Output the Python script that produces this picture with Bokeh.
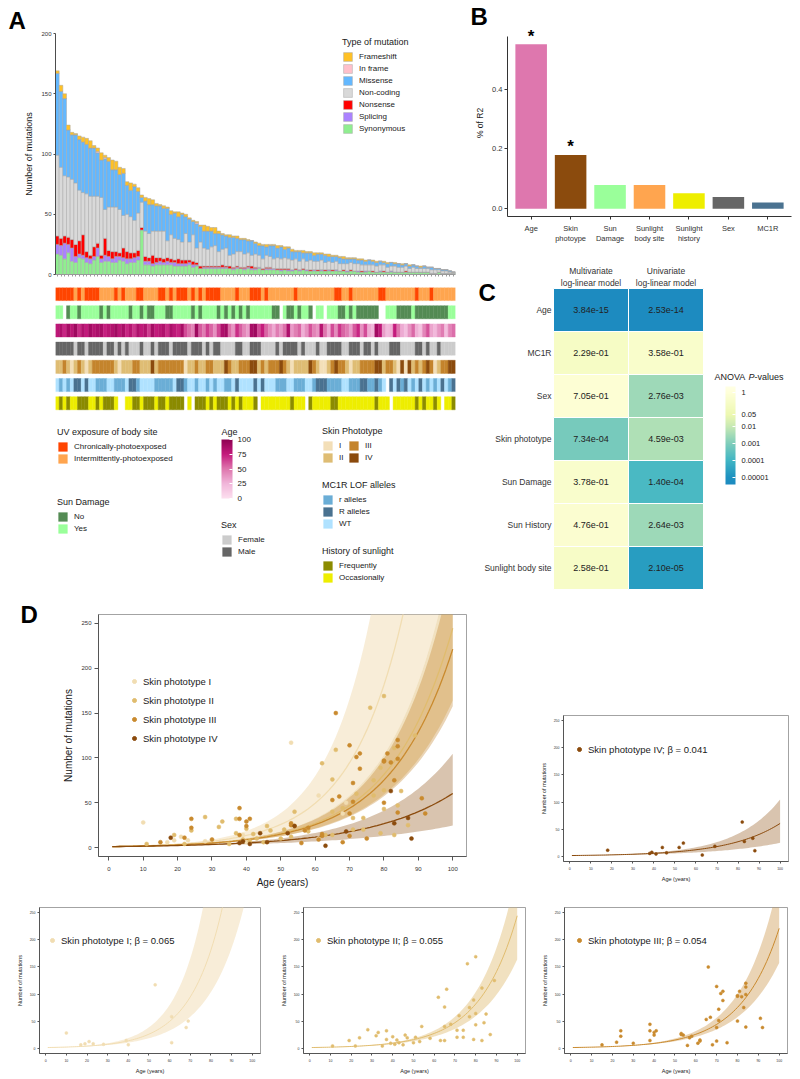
import numpy as np
from bokeh.plotting import figure
from bokeh.layouts import column, row
from bokeh.models import (Range1d, FixedTicker, Legend, LegendItem, ColorBar,
                          LinearColorMapper, Label, ColumnDataSource)
from bokeh.embed import file_html
from bokeh.resources import INLINE
from bokeh.core.properties import value, field

FONT = "Liberation Sans"
N_SAMPLES = 109

# ------------------------------------------------------------------ Panel A
MUT_TYPES = ["Frameshift", "In frame", "Missense", "Non-coding", "Nonsense", "Splicing", "Synonymous"]
FRAMESHIFT = [2, 5, 4, 4, 2, 1, 3, 4, 5, 6,  2, 3, 6, 2, 3, 8, 7, 6, 4, 3,
              6, 2, 3, 2, 3, 5, 4, 2, 1, 2,  1, 3, 1, 4, 1, 2, 1, 1, 1, 1,
              5, 4, 3, 5, 2, 1, 1, 2, 1, 2,  1, 1, 1, 0, 1, 2, 1, 2, 1, 1,
              2, 1, 2, 1, 2, 1, 1, 2, 1, 1,  2, 1, 1, 1, 2, 1, 1, 1, 2, 1,
              1, 1, 1, 1, 1, 0, 1, 1, 0, 1,  1, 0, 1, 0, 1, 0, 1, 0, 0, 1,
              0, 0, 0, 0, 0, 0, 0, 0, 0]
IN_FRAME = [0, 0, 0, 0, 0, 0, 0, 0, 0, 0,  0, 1, 0, 1, 0, 0, 0, 0, 0, 0,
            0, 0, 0, 0, 0, 0, 0, 0, 0, 0,  0, 0, 0, 0, 0, 0, 0, 0, 1, 0,
            0, 0, 0, 0, 0, 0, 0, 0, 0, 0,  0, 0, 0, 0, 0, 0, 0, 0, 0, 0,
            0, 0, 0, 0, 0, 0, 0, 0, 0, 0,  0, 0, 0, 0, 0, 0, 0, 0, 0, 0,
            0, 0, 0, 0, 0, 0, 0, 0, 0, 0,  0, 0, 0, 0, 0, 0, 0, 0, 0, 0,
            0, 0, 0, 0, 0, 0, 0, 0, 0]
MISSENSE = [68, 63, 64, 39, 37, 40, 42, 42, 41, 40,  40, 36, 31, 42, 38, 31, 31, 29, 35, 24,
            22, 28, 18, 4, 25, 24, 22, 21, 21, 19,  27, 17, 21, 19, 23, 14, 19, 11, 20, 13,
            14, 15, 13, 10, 15, 12, 10, 15, 14, 11,  10, 12, 10, 12, 9, 8, 11, 7, 9, 11,
            8, 10, 7, 9, 7, 6, 8, 5, 7, 6,  5, 6, 5, 6, 4, 5, 4, 5, 4, 4,
            3, 4, 3, 4, 3, 4, 3, 3, 3, 2,  3, 3, 2, 3, 2, 2, 2, 2, 2, 1,
            2, 1, 2, 1, 1, 1, 1, 1, 0]
NON_CODING = [67, 59, 50, 50, 50, 51, 42, 35, 48, 49,  42, 39, 48, 24, 36, 37, 37, 36, 27, 31,
              30, 27, 31, 21, 21, 20, 20, 22, 22, 23,  14, 20, 18, 16, 15, 22, 15, 22, 12, 20,
              15, 14, 16, 17, 12, 13, 15, 9, 11, 12,  13, 11, 11, 9, 11, 10, 8, 10, 9, 8,
              9, 8, 9, 8, 8, 8, 7, 8, 7, 8,  7, 7, 8, 6, 7, 6, 7, 6, 5, 6,
              6, 6, 6, 5, 5, 5, 5, 5, 5, 5,  4, 4, 5, 4, 4, 4, 3, 4, 3, 3,
              3, 3, 3, 3, 2, 2, 2, 1, 1]
NONSENSE = [7, 6, 6, 6, 7, 10, 11, 17, 5, 3,  8, 4, 3, 14, 5, 6, 4, 3, 8, 6,
            5, 4, 5, 2, 4, 3, 7, 4, 3, 3,  3, 3, 2, 4, 3, 3, 2, 3, 2, 2,
            1, 1, 1, 1, 1, 2, 1, 2, 1, 1,  1, 1, 1, 2, 1, 0, 1, 1, 1, 0,
            1, 1, 1, 1, 0, 1, 0, 1, 0, 1,  0, 1, 0, 1, 0, 1, 0, 0, 1, 0,
            1, 0, 0, 1, 0, 0, 1, 0, 0, 1,  0, 0, 0, 0, 0, 1, 0, 0, 0, 0,
            0, 0, 0, 0, 0, 0, 0, 0, 0]
SPLICING = [8, 8, 13, 7, 11, 5, 3, 3, 4, 4,  3, 7, 3, 5, 4, 3, 5, 3, 3, 4,
            3, 4, 3, 0, 3, 3, 2, 2, 3, 2,  3, 2, 3, 2, 2, 2, 2, 2, 1, 0,
            1, 1, 1, 1, 1, 1, 1, 0, 1, 1,  0, 1, 1, 1, 1, 1, 0, 1, 1, 1,
            0, 1, 0, 1, 1, 0, 1, 0, 1, 0,  1, 0, 1, 0, 1, 0, 1, 0, 0, 1,
            0, 0, 1, 0, 1, 0, 0, 0, 1, 0,  0, 1, 0, 0, 0, 0, 0, 0, 0, 0,
            0, 0, 0, 0, 0, 0, 0, 0, 0]
SYNONYMOUS = [17, 16, 13, 18, 11, 10, 14, 13, 10, 9,  12, 15, 10, 11, 11, 10, 10, 12, 11, 9,
              10, 10, 12, 37, 8, 8, 7, 8, 8, 8,  8, 8, 7, 7, 7, 7, 8, 6, 7, 5,
              5, 5, 5, 5, 5, 5, 5, 5, 4, 5,  5, 4, 5, 4, 4, 5, 4, 4, 4, 4,
              4, 3, 4, 3, 3, 4, 3, 4, 3, 3,  3, 3, 3, 3, 3, 3, 3, 3, 3, 2,
              3, 3, 2, 2, 2, 3, 2, 2, 2, 2,  2, 2, 2, 2, 2, 2, 2, 2, 2, 2,
              2, 2, 1, 1, 2, 1, 1, 1, 1]

UV_RUNS = [("C", 5), ("I", 1), ("C", 1), ("I", 1), ("C", 4), ("I", 4), ("C", 1), ("I", 1), ("C", 1),
           ("I", 3), ("C", 2), ("I", 4), ("C", 2), ("I", 1), ("C", 1), ("I", 1), ("C", 3), ("I", 1),
           ("C", 1), ("I", 1), ("C", 1), ("I", 1), ("C", 4), ("I", 4), ("C", 1), ("I", 3), ("C", 3),
           ("I", 1), ("C", 1), ("I", 7), ("C", 1), ("I", 10), ("C", 2), ("I", 2), ("C", 1), ("I", 7),
           ("C", 2), ("I", 8), ("C", 1), ("I", 3), ("C", 1), ("I", 6)]
SUN_DAMAGE_RUNS = [("Y", 2), ("X", 1), ("N", 1), ("Y", 2), ("N", 1), ("Y", 5), ("N", 1), ("Y", 1),
                   ("N", 1), ("Y", 5), ("N", 1), ("Y", 2), ("N", 1), ("Y", 1), ("N", 2), ("Y", 3),
                   ("N", 2), ("Y", 5), ("N", 1), ("Y", 1), ("N", 1), ("Y", 4), ("N", 1), ("Y", 1),
                   ("N", 1), ("Y", 1), ("N", 1), ("Y", 1), ("N", 1), ("Y", 1), ("N", 1), ("Y", 6),
                   ("N", 2), ("X", 1), ("Y", 1), ("N", 2), ("Y", 1), ("N", 1), ("Y", 2), ("N", 1),
                   ("X", 1), ("Y", 2), ("X", 1), ("Y", 3), ("N", 2), ("Y", 1), ("N", 1), ("Y", 1),
                   ("N", 6), ("X", 2), ("Y", 3), ("N", 4), ("Y", 1), ("N", 9), ("Y", 2)]
AGE_PER_SAMPLE = [78, 85, 72, 88, 80, 92, 70, 84, 76, 90,  82, 86, 88, 74, 80, 83, 91, 79, 87, 72,
                  81, 68, 85, 77, 83, 66, 89, 75, 80, 84,  70, 86, 78, 73, 88, 62, 52, 45, 92, 58,
                  48, 66, 55, 40, 63, 85, 90, 52, 38, 70,  57, 44, 35, 88, 92, 62, 75, 55, 42, 30,
                  48, 38, 52, 85, 36, 47, 55, 28, 40, 60,  45, 38, 82, 50, 30, 62, 42, 68, 55, 48,
                  35, 58, 72, 40, 62, 30, 25, 90, 78, 35,  22, 28, 75, 50, 30, 20, 38, 54, 28, 18,
                  44, 60, 32, 24, 38, 48, 20, 45, 52]
SEX_RUNS = [("M", 5), ("F", 1), ("M", 2), ("F", 1), ("M", 4), ("F", 1), ("M", 2), ("F", 1), ("M", 1),
            ("F", 1), ("M", 1), ("F", 3), ("M", 1), ("F", 2), ("M", 1), ("F", 1), ("M", 3), ("F", 1),
            ("M", 4), ("F", 1), ("M", 3), ("F", 1), ("M", 1), ("F", 1), ("M", 2), ("F", 4), ("M", 2),
            ("F", 2), ("M", 3), ("F", 4), ("M", 1), ("F", 1), ("M", 4), ("F", 1), ("M", 1), ("F", 3),
            ("M", 1), ("F", 2), ("M", 4), ("F", 2), ("M", 3), ("F", 1), ("M", 2), ("F", 1), ("M", 1),
            ("F", 3), ("M", 3), ("F", 4), ("M", 2), ("F", 1), ("M", 1), ("F", 2), ("M", 1), ("F", 4)]
PHOTOTYPE_CODES = ["2232123212", "3333332122", "2332224233", "3333312232", "2332224322",
                   "3334423233", "3432122224", "3211234332", "1223333442", "3321414232", "343123344"]
MC1R_CODES = ["WrWrWRRWRW", "WrrrWWrrrW", "RRrWWWWrrr", "rrWRRrWWrW", "WrWrWWrrWR",
              "WWWWRWRWWW", "rrrWWrrrWW", "rRRRrrrrWW", "rrrRRrrRrW", "XRWRrRWrWR", "WrWrWRWrR"]
HISTORY_RUNS = [("O", 1), ("F", 1), ("O", 1), ("F", 1), ("O", 2), ("F", 3), ("O", 2), ("F", 1), ("O", 1),
                ("F", 3), ("O", 1), ("X", 2), ("O", 2), ("F", 2), ("O", 1), ("F", 3), ("O", 1), ("F", 2),
                ("O", 1), ("F", 4), ("X", 1), ("O", 1), ("X", 1), ("F", 3), ("O", 1), ("F", 1), ("O", 1),
                ("F", 3), ("O", 1), ("F", 1), ("O", 1), ("F", 1), ("O", 3), ("F", 1), ("X", 1), ("O", 8),
                ("F", 1), ("O", 3), ("X", 1), ("F", 1), ("O", 5), ("F", 2), ("O", 10), ("F", 1), ("O", 3),
                ("X", 1), ("O", 6), ("F", 1), ("O", 1), ("F", 1), ("O", 2), ("F", 1), ("O", 1), ("X", 1),
                ("O", 2), ("F", 1)]

# ------------------------------------------------------------------ Panel B
B_FACTORS = ["Age", "Skin\nphotoype", "Sun\nDamage", "Sunlight\nbody site", "Sunlight\nhistory", "Sex", "MC1R"]
B_R2 = [0.551, 0.180, 0.079, 0.079, 0.052, 0.039, 0.021]
B_SIGNIF = [True, True, False, False, False, False, False]

# ------------------------------------------------------------------ Panel C
C_ROWS = ["Age", "MC1R", "Sex", "Skin phototype", "Sun Damage", "Sun History", "Sunlight body site"]
C_MODELS = [("Multivariate", "log-linear model"), ("Univariate", "log-linear model")]
C_P_MULTI = [3.84e-15, 2.29e-01, 7.05e-01, 7.34e-04, 3.78e-01, 4.76e-01, 2.58e-01]
C_P_UNI = [2.53e-14, 3.58e-01, 2.76e-03, 4.59e-03, 1.40e-04, 2.64e-03, 2.10e-05]
C_TICKS = [0.00001, 0.0001, 0.001, 0.01, 0.05, 1]
C_TICK_LABELS = ["0.00001", "0.0001", "0.001", "0.01", "0.05", "1"]

# ------------------------------------------------------------------ Panel D
PHOTOTYPES = ["I", "II", "III", "IV"]
BETA = [0.065, 0.055, 0.054, 0.041]
BETA_LOW = [0.058, 0.051, 0.0506, 0.032]
BETA_HIGH = [0.073, 0.058, 0.0575, 0.0465]
AGE_I = [10, 17, 19, 21, 23, 28, 39, 40, 53, 61, 61, 68, 69]
MUT_I = [28, 6, 8, 12, 8, 7, 14, 6, 117, 10, 58, 38, 50]
AGE_II = [11, 19, 22, 24, 28, 32, 33, 35, 37, 37, 39, 40, 41, 42, 43, 45, 46, 47, 50, 51, 53, 54, 58, 62, 63,
          65, 65, 65, 66, 68, 71, 71, 72, 74, 74, 76, 77, 77, 79, 79, 80, 80, 80, 83, 83, 84, 85, 87, 89]
MUT_II = [4, 14, 4, 19, 34, 23, 29, 4, 32, 16, 9, 21, 7, 15, 10, 6, 24, 19, 10, 20, 12, 40, 18, 94, 14,
          76, 40, 14, 109, 44, 33, 20, 60, 20, 33, 156, 75, 58, 89, 16, 169, 64, 43, 111, 14, 47, 63, 25, 125]
AGE_III = [15, 22, 24, 24, 30, 38, 38, 38, 40, 40, 41, 53, 53, 54, 56, 57, 58, 61, 62, 62, 65, 66, 67, 68, 70,
           70, 70, 71, 71, 72, 73, 73, 75, 80, 80, 80, 81, 82, 83, 84, 84, 84, 84, 91, 92]
MUT_III = [6, 11, 32, 22, 9, 44, 32, 14, 24, 29, 32, 27, 25, 24, 5, 19, 22, 9, 15, 13, 53, 150, 57, 6, 38,
           114, 13, 72, 51, 101, 105, 88, 10, 97, 96, 50, 105, 95, 75, 120, 113, 99, 39, 55, 38]
AGE_IV = [18, 38, 39, 41, 44, 46, 52, 54, 63, 69, 82, 83, 87, 88]
MUT_IV = [11, 5, 7, 4, 16, 6, 16, 24, 2, 18, 63, 27, 33, 10]
AGE_GRID = list(range(1, 101))

# ------------------------------------------------------------------ styles
MUT_COLORS = ["#FFC125", "#FFC0CB", "#63B8FF", "#D9D9D9", "#FF0000", "#AB82FF", "#90EE90"]
PT_COLORS = ["#F3DFB8", "#DFBD74", "#C4842C", "#8B4B0D"]
PT_POINT_COLORS = ["#F1DDB2", "#E0BC6E", "#C98A2E", "#8B4B0D"]
BAND_ALPHA = [0.55, 0.45, 0.35, 0.33]
B_COLORS = ["#DE77AE", "#8B4B0D", "#9AFF9A", "#FFA54F", "#EEEE00", "#666666", "#4A7290"]
TXT = "#1a1a1a"
AX = "#4d4d4d"


def expand_runs(runs):
    out = []
    for code, n in runs:
        out.extend([code] * n)
    return (out + [out[-1]] * N_SAMPLES)[:N_SAMPLES]


def expand_codes(chunks):
    out = list("".join(chunks))
    return (out + [out[-1]] * N_SAMPLES)[:N_SAMPLES]


def interp_palette(stops, colors, lo, hi, n=256):
    order = np.argsort(stops)
    xs_ = np.array(stops, dtype=float)[order]
    rgb = np.array([[int(c[i:i + 2], 16) for i in (1, 3, 5)] for c in colors], dtype=float)[order]
    out = []
    for g in np.linspace(lo, hi, n):
        out.append("#%02x%02x%02x" % tuple(int(round(np.interp(g, xs_, rgb[:, k]))) for k in range(3)))
    return out


def base_fig(width, height, xr, yr, bl, br, bt, bb, **kw):
    p = figure(width=width, height=height, x_range=xr, y_range=yr, output_backend="svg",
               toolbar_location=None, min_border_left=bl, min_border_right=br,
               min_border_top=bt, min_border_bottom=bb, **kw)
    p.grid.visible = False
    p.outline_line_color = None
    p.background_fill_color = "white"
    p.border_fill_color = "white"
    return p


def style_axis(ax, tick_fs, label_fs=None, color=AX):
    ax.major_label_text_font = FONT
    ax.major_label_text_font_size = tick_fs
    ax.major_label_text_color = "#333333"
    ax.axis_label_text_font = FONT
    ax.axis_label_text_font_style = "normal"
    if label_fs:
        ax.axis_label_text_font_size = label_fs
    ax.axis_label_text_color = TXT
    ax.axis_line_color = color
    ax.major_tick_line_color = color
    ax.minor_tick_line_color = None
    ax.major_tick_in = 0


def screen_label(p, text, x, y, size="9px", style="normal", align="left", baseline="middle", color=TXT):
    p.add_layout(Label(x=x, y=y, x_units="screen", y_units="screen", text=text,
                       text_font=FONT, text_font_size=size, text_font_style=style,
                       text_color=color, text_baseline=baseline, text_align=align))


def title_letter(p, letter, offset):
    p.title.text = letter
    p.title.text_font = FONT
    p.title.text_font_size = "24px"
    p.title.text_font_style = "bold"
    p.title.text_color = "black"
    p.title.text_line_height = 0.7
    p.title.align = "left"
    p.title.offset = offset
    p.title.standoff = 0


def letter_fig(width, height, letter, x, cap_top):
    p = base_fig(width, height, Range1d(0, 1), Range1d(0, 1), 0, 0, 0, 0,
                 x_axis_type=None, y_axis_type=None)
    screen_label(p, letter, x, height - (cap_top - 4.5), size="24px", style="bold",
                 baseline="top", color="black")
    return p


def make_legend(items, loc, title=None, fs="8px", tfs="9px", gw=11, gh=11, spacing=1, **kw):
    lg = Legend(items=items, location=loc, orientation="vertical",
                label_text_font=FONT, label_text_font_size=fs, label_text_color=TXT,
                glyph_width=gw, glyph_height=gh, label_height=gh, spacing=spacing,
                padding=0, margin=0, label_standoff=6, border_line_color=None,
                background_fill_alpha=0, **kw)
    if title:
        lg.title = title
        lg.title_text_font = FONT
        lg.title_text_font_size = tfs
        lg.title_text_font_style = "normal"
        lg.title_text_color = TXT
        lg.title_standoff = 4
    return lg


# ================================================================== Panel A bars
xs = list(range(1, N_SAMPLES + 1))
srcA = ColumnDataSource(dict(x=xs, fs=FRAMESHIFT, inf=IN_FRAME, ms=MISSENSE, nc=NON_CODING,
                             ns=NONSENSE, sp=SPLICING, sy=SYNONYMOUS))
xrA = Range1d(0.5, N_SAMPLES + 0.5)
pA = base_fig(470, 280, xrA, Range1d(0, 200), 55, 15, 33, 6)
title_letter(pA, "A", -47)
keys_top_down = ["fs", "inf", "ms", "nc", "ns", "sp", "sy"]
rendsA = pA.vbar_stack(keys_top_down[::-1], x="x", width=1.0, fill_color=MUT_COLORS[::-1],
                       line_color="#A9A9A9", line_width=0.5, source=srcA)
rendsA = rendsA[::-1]
style_axis(pA.yaxis[0], "6px", "9px")
pA.yaxis.ticker = FixedTicker(ticks=[0, 50, 100, 150, 200])
pA.yaxis.axis_label = "Number of mutations"
pA.yaxis.major_tick_out = 2
pA.yaxis.major_label_standoff = 2
pA.yaxis.axis_label_standoff = 4
style_axis(pA.xaxis[0], "1px")
pA.xaxis.ticker = FixedTicker(ticks=xs)
pA.xaxis.major_label_overrides = {i: "" for i in xs}
pA.xaxis.major_tick_out = 2
pA.xaxis.major_label_standoff = 0
pA.xaxis.axis_line_color = "#999999"
pA.xaxis.major_tick_line_color = "#999999"
pA.add_layout(make_legend([LegendItem(label=t, renderers=[r]) for t, r in zip(MUT_TYPES, rendsA)],
                          (287, 140), title="Type of mutation"))

# ================================================================== Panel A tracks
pT = base_fig(470, 312, xrA, Range1d(-16.29, 0.36), 55, 15, 7, 2, x_axis_type=None, y_axis_type=None)
age_mapper = LinearColorMapper(palette=interp_palette([0, 25, 50, 75, 100],
                                                      ["#FDE0EF", "#F1B6DA", "#DE77AE", "#C51B7D", "#8E0152"],
                                                      0, 100), low=0, high=100)
TRACKS = [
    ("UV exposure of body site", expand_runs(UV_RUNS),
     [("C", "Chronically-photoexposed", "#FF4500"), ("I", "Intermittently-photoexposed", "#FFA54F")], (2, 126), 1),
    ("Sun Damage", expand_runs(SUN_DAMAGE_RUNS),
     [("N", "No", "#548B54"), ("Y", "Yes", "#9AFF9A")], (2, 56), 1),
    ("Age", AGE_PER_SAMPLE, None, None, 1),
    ("Sex", expand_runs(SEX_RUNS),
     [("F", "Female", "#CCCCCC"), ("M", "Male", "#666666")], (166, 33), 1),
    ("Skin Phototype", expand_codes(PHOTOTYPE_CODES),
     [("1", "I", PT_COLORS[0]), ("2", "II", PT_COLORS[1]), ("3", "III", PT_COLORS[2]), ("4", "IV", PT_COLORS[3])],
     (267, 127), 2),
    ("MC1R LOF alleles", expand_codes(MC1R_CODES),
     [("r", "r alleles", "#6BAED6"), ("R", "R alleles", "#4A7290"), ("W", "WT", "#B0E2FF")], (267, 61), 1),
    ("History of sunlight", expand_runs(HISTORY_RUNS),
     [("F", "Frequently", "#8B8B00"), ("O", "Occasionally", "#EEEE00")], (267, 7), 1),
]
for k, (title, vals, cats, loc, ncols) in enumerate(TRACKS):
    if cats is None:
        src = ColumnDataSource(dict(x=xs, y=[-k] * N_SAMPLES, age=vals))
        cmap = {"field": "age", "transform": age_mapper}
        pT.rect(x="x", y="y", width=1, height=0.72, fill_color=cmap, line_color=cmap, line_width=0.4, source=src)
        cb = ColorBar(color_mapper=age_mapper, location=(166, 92), width=11, height=59,
                      ticker=FixedTicker(ticks=[0, 25, 50, 75, 100]),
                      major_label_text_font=FONT, major_label_text_font_size="8px",
                      major_label_text_color=TXT, label_standoff=5,
                      major_tick_line_color="white", major_tick_in=3, major_tick_out=0,
                      minor_tick_line_color=None, bar_line_color=None, border_line_color=None,
                      background_fill_alpha=0, padding=0, margin=0)
        pT.add_layout(cb)
        screen_label(pT, title, 166, 590 - 431)
        continue
    colors = {c: col for c, _, col in cats}
    keep = [i for i, v in enumerate(vals) if v in colors]
    src = ColumnDataSource(dict(x=[xs[i] for i in keep], y=[-k] * len(keep),
                                cat=[vals[i] for i in keep], fillc=[colors[vals[i]] for i in keep]))
    r = pT.rect(x="x", y="y", width=1, height=0.72, fill_color=field("fillc"), line_color=field("fillc"),
                line_width=0.4, source=src)
    catlist = src.data["cat"]
    items = [LegendItem(label=lab, renderers=[r], index=catlist.index(c)) for c, lab, _ in cats]
    extra = {"ncols": 2, "label_width": 8} if ncols == 2 else {}
    pT.add_layout(make_legend(items, loc, title=title, **extra))

# ================================================================== Panel B
pB = base_fig(330, 250, Range1d(0.4, 7.6), Range1d(-0.0262, 0.600), 37, 9, 25, 34)
title_letter(pB, "B", -37)
bx = list(range(1, 8))
pB.vbar(x=bx, top=B_R2, width=0.8, fill_color=B_COLORS, line_color=None)
sx = [x for x, s in zip(bx, B_SIGNIF) if s]
sy = [v for v, s in zip(B_R2, B_SIGNIF) if s]
pB.text(x=sx, y=sy, text=["*"] * len(sx), text_font=value(FONT), text_font_size="17px",
        text_font_style="bold", text_align="center", text_baseline="alphabetic", y_offset=-8, text_color="black")
style_axis(pB.xaxis[0], "7.5px", color="#333333")
style_axis(pB.yaxis[0], "7.5px", "8.5px", color="#333333")
pB.xaxis.ticker = FixedTicker(ticks=bx)
pB.xaxis.major_label_overrides = {x: f for x, f in zip(bx, B_FACTORS)}
pB.xaxis.major_tick_out = 3
pB.xaxis.major_label_standoff = 4
pB.yaxis.ticker = FixedTicker(ticks=[0, 0.2, 0.4])
pB.yaxis.major_label_overrides = {0: "0.0", 0.2: "0.2", 0.4: "0.4"}
pB.yaxis.major_tick_out = 3
pB.yaxis.major_label_standoff = 2
pB.yaxis.axis_label = "% of R2"
pB.yaxis.axis_label_standoff = 4
pB.yaxis.bounds = (-0.0262, 0.577)

# ================================================================== Panel C (whole-frame figure)
C_W, C_H = 330, 342
pC = base_fig(C_W, C_H, Range1d(-83 / 75, 247 / 75), Range1d(-3 / 43, 7 + 38 / 43), 0, 0, 0, 0,
              x_axis_type=None, y_axis_type=None)
log_stops = [0.35, 0.0, -1.3, -2.0, -3.0, -4.0, -5.0, -5.41]
log_cols = ["#FFFFE5", "#FFFFD9", "#EDF8B1", "#C7E9B4", "#7FCDBB", "#41B6C4", "#1D91C0", "#1D8BC0"]
lp_mapper = LinearColorMapper(palette=interp_palette(log_stops, log_cols, -5.41, 0.35),
                              low=-5.41, high=0.35, low_color="#1D8BC0", high_color="#FFFFE5")
row_y = [6.5 - i for i in range(len(C_ROWS))]
cx = [0.5] * len(C_ROWS) + [1.5] * len(C_ROWS)
cy = row_y + row_y
cp = C_P_MULTI + C_P_UNI
srcC = ColumnDataSource(dict(x=cx, y=cy, lp=list(np.log10(cp)), lab=[f"{v:.2e}" for v in cp]))
pC.rect(x="x", y="y", width=1, height=1, fill_color={"field": "lp", "transform": lp_mapper},
        line_color="white", line_width=1, source=srcC)
pC.text(x="x", y="y", text="lab", source=srcC, text_font=value(FONT), text_font_size="9px",
        text_align="center", text_baseline="middle", text_color="#222222")
pC.text(x=[0] * len(C_ROWS), y=row_y, text=C_ROWS, x_offset=-2, text_font=value(FONT), text_font_size="8.5px",
        text_align="right", text_baseline="middle", text_color="#333333")
hx = [0.5, 1.5]
pC.text(x=hx, y=[7, 7], text=[m[1] for m in C_MODELS], y_offset=-6, text_font=value(FONT),
        text_font_size="8.5px", text_align="center", text_baseline="middle", text_color="#333333")
pC.text(x=hx, y=[7, 7], text=[m[0] for m in C_MODELS], y_offset=-18, text_font=value(FONT),
        text_font_size="8.5px", text_align="center", text_baseline="middle", text_color="#333333")
lt = [float(np.log10(t)) for t in C_TICKS]
cbC = ColorBar(color_mapper=lp_mapper, location=(255, 108), width=10, height=98,
               ticker=FixedTicker(ticks=lt),
               major_label_overrides={t: l for t, l in zip(lt, C_TICK_LABELS)},
               major_label_text_font=FONT, major_label_text_font_size="7.5px", major_label_text_color=TXT,
               label_standoff=6, major_tick_line_color="white", major_tick_in=3, major_tick_out=0,
               minor_tick_line_color=None, bar_line_color=None, border_line_color=None,
               background_fill_alpha=0, padding=0, margin=0)
pC.add_layout(cbC)
screen_label(pC, "ANOVA", 244, C_H - (376 - 250))
screen_label(pC, "P", 278, C_H - (376 - 250), style="italic")
screen_label(pC, "-values", 284, C_H - (376 - 250))
screen_label(pC, "C", 8, C_H - (283 - 250 - 4.5), size="24px", style="bold", baseline="top", color="black")

# ================================================================== Panel D
GROUP_AGES = [AGE_I, AGE_II, AGE_III, AGE_IV]
GROUP_MUTS = [MUT_I, MUT_II, MUT_III, MUT_IV]
grid = np.array(AGE_GRID, dtype=float)


def d_panel(width, height, bl, br, bt, bb, groups, tick_fs, lab_fs, pt_size, lw, leg_loc, leg_fs,
            leg_labels, leg_pt, leg_spacing=7):
    p = base_fig(width, height, Range1d(-3, 104), Range1d(-10, 260), bl, br, bt, bb)
    p.outline_line_color = "#8c8c8c"
    p.outline_line_width = 0.8
    for g in groups:
        p.varea(x=grid, y1=np.exp(BETA_LOW[g] * grid), y2=np.exp(BETA_HIGH[g] * grid),
                fill_color=PT_COLORS[g], fill_alpha=BAND_ALPHA[g])
    for g in groups:
        p.line(x=grid, y=np.exp(BETA[g] * grid), line_color=PT_POINT_COLORS[g], line_width=lw)
    items = []
    for g in groups:
        p.scatter(x=GROUP_AGES[g], y=GROUP_MUTS[g], size=pt_size, fill_color=PT_POINT_COLORS[g],
                  line_color=PT_POINT_COLORS[g], line_width=0.5)
        # legend key only (not plotted: NaN position)
        rl = p.scatter(x=[float("nan")], y=[float("nan")], size=leg_pt,
                       fill_color=PT_POINT_COLORS[g], line_color=PT_POINT_COLORS[g])
        items.append(LegendItem(label=leg_labels[g], renderers=[rl]))
    lg = make_legend(items, leg_loc, fs=leg_fs, gw=10, gh=12, spacing=leg_spacing)
    lg.label_standoff = 4
    p.add_layout(lg)
    for ax, lab in ((p.xaxis[0], "Age (years)"), (p.yaxis[0], "Number of mutations")):
        style_axis(ax, tick_fs, lab_fs, color="#555555")
        ax.axis_label = lab
    p.xaxis.ticker = FixedTicker(ticks=list(range(0, 101, 10)))
    p.yaxis.ticker = FixedTicker(ticks=list(range(0, 251, 50)))
    return p


lab_main = [f"Skin phototype {n}" for n in PHOTOTYPES]
lab_sub = [f"Skin phototype {n}; \u03b2 = {b:.3f}" for n, b in zip(PHOTOTYPES, BETA)]

letterD = letter_fig(60, 298, "D", 20, 605 - 592)
pD = d_panel(410, 298, 34, 4, 22, 34, [0, 1, 2, 3], "6px", "10px", 4, 1.3, (31, 112), "9.5px", lab_main, 5)
pD.xaxis.major_tick_out = 4
pD.yaxis.major_tick_out = 4
pD.xaxis.major_label_standoff = 6
pD.yaxis.major_label_standoff = 3
pD.xaxis.axis_label_standoff = 3
pD.yaxis.axis_label_standoff = 4

pD4 = d_panel(330, 298, 93, 12, 123, 29, [3], "3.5px", "5.5px", 3, 1.0, (11, 106), "9.5px", lab_sub, 5)
pD1 = d_panel(265, 188, 39, 5, 17, 25, [0], "3.5px", "5.5px", 3, 1.0, (8, 107), "9.5px", lab_sub, 5)
pD2 = d_panel(265, 188, 38, 5, 17, 25, [1], "3.5px", "5.5px", 3, 1.0, (10, 107), "9.5px", lab_sub, 5)
pD3 = d_panel(270, 188, 34, 13, 17, 25, [2], "3.5px", "5.5px", 3, 1.0, (10, 107), "9.5px", lab_sub, 5)
for p in (pD4, pD1, pD2, pD3):
    p.xaxis.major_tick_out = 2
    p.yaxis.major_tick_out = 2
    p.xaxis.major_label_standoff = 3
    p.yaxis.major_label_standoff = 2
    p.xaxis.axis_label_standoff = 3
    p.yaxis.axis_label_standoff = 4

top = row(
    column(row(pA), row(pT)),
    column(row(pB), row(pC)),
)
mid = row(row(letterD), row(pD), row(pD4))
bot = row(row(pD1), row(pD2), row(pD3))
layout = column(top, mid, bot)

with open("out.html", "w") as f:
    f.write(file_html(layout, INLINE, title="Mutational burden"))
